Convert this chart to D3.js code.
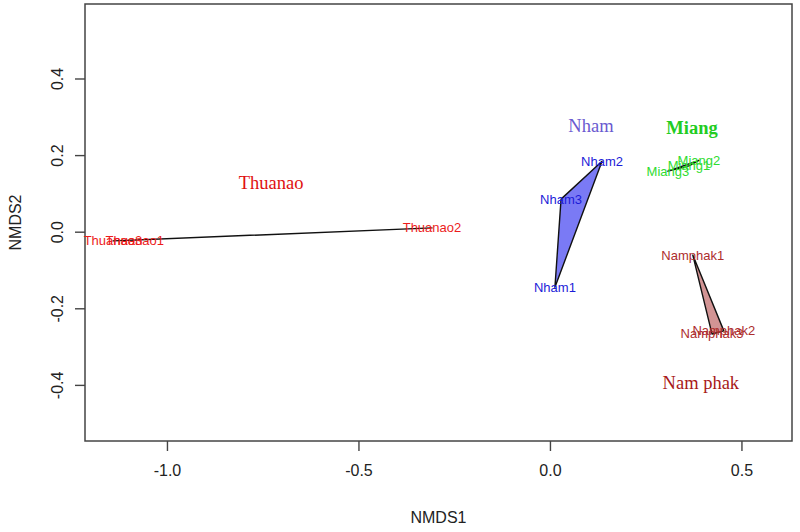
<!DOCTYPE html>
<html>
<head>
<meta charset="utf-8">
<script src="https://cdn.jsdelivr.net/npm/d3@7"></script>
<style>
html,body{margin:0;padding:0;background:#fff;}
svg{display:block;}
</style>
</head>
<body>
<svg id="chart" width="800" height="532"></svg>
<script>
// ---- data (NMDS site scores) ----
const siteNames = ["Thuanao1","Thuanao2","Thuanao3","Nham1","Nham2","Nham3","Miang1","Miang2","Miang3","Namphak1","Namphak2","Namphak3"];
const siteGroup = ["Thuanao","Thuanao","Thuanao","Nham","Nham","Nham","Miang","Miang","Miang","Nam phak","Nam phak","Nam phak"];
const nmds1 = [-1.084,-0.308,-1.141, 0.013,0.136,0.029, 0.363,0.389,0.308, 0.373,0.454,0.423];
const nmds2 = [-0.022, 0.010,-0.024,-0.145,0.184,0.085, 0.172,0.186,0.158,-0.061,-0.259,-0.267];

const groups = ["Thuanao","Nham","Miang","Nam phak"];
const groupLabelX = [-0.728, 0.107, 0.371, 0.394];
const groupLabelY = [ 0.127, 0.275, 0.270,-0.396];

const xTicks = [-1.0,-0.5,0.0,0.5];
const yTicks = [-0.4,-0.2,0.0,0.2,0.4];
const xDomain = [-1.214, 0.632];
const yDomain = [-0.5465, 0.5945];

// ---- styles ----
const pointColor = {"Thuanao":"#ec1c1c","Nham":"#1c1cd8","Miang":"#30dc30","Nam phak":"#ad2d2d"};
const groupColor = {"Thuanao":"#e01010","Nham":"#6a5ad0","Miang":"#22cc22","Nam phak":"#a81818"};
const hullFill = {"Thuanao":"rgba(255,0,0,0.5)","Nham":"rgba(0,0,235,0.52)","Miang":"rgba(0,220,0,0.5)","Nam phak":"rgba(165,42,42,0.5)"};
const groupBold = {"Thuanao":false,"Nham":false,"Miang":true,"Nam phak":false};

const svg = d3.select("#chart");
const L = 85, R = 792, T = 4, B = 441;
const x = d3.scaleLinear().domain(xDomain).range([L, R]);
const y = d3.scaleLinear().domain(yDomain).range([B, T]);

const sans = "'Liberation Sans', Arial, Helvetica, sans-serif";
const serif = "'Liberation Serif', 'Times New Roman', serif";
const fmt = d => d.toFixed(1);

// axes
const xAxis = d3.axisBottom(x).tickValues(xTicks).tickFormat(fmt).tickSize(10).tickPadding(14);
const gx = svg.append("g").attr("transform", `translate(0,${B})`).call(xAxis);
gx.select(".domain").remove();
gx.selectAll("line").attr("stroke", "#444").attr("stroke-width", 1.4);
gx.selectAll("text").attr("font-family", sans).attr("font-size", 16).attr("fill", "#222");

const yAxis = d3.axisLeft(y).tickValues(yTicks).tickFormat(fmt).tickSize(10).tickPadding(0);
const gy = svg.append("g").attr("transform", `translate(${L},0)`).call(yAxis);
gy.select(".domain").remove();
gy.selectAll("line").attr("stroke", "#444").attr("stroke-width", 1.4);
gy.selectAll("text")
  .attr("font-family", sans).attr("font-size", 16).attr("fill", "#222")
  .attr("text-anchor", "middle").attr("dy", null).attr("x", null)
  .attr("transform", "translate(-28,0) rotate(-90)")
  .attr("dominant-baseline", "central");

// frame
svg.append("rect").attr("x", L).attr("y", T).attr("width", R - L).attr("height", B - T)
  .attr("fill", "none").attr("stroke", "#444").attr("stroke-width", 1.5);

// axis titles
svg.append("text").attr("x", (L + R) / 2).attr("y", 517).attr("text-anchor", "middle")
  .attr("dominant-baseline", "central").attr("font-family", sans).attr("font-size", 16).attr("fill", "#222").text("NMDS1");
svg.append("text").attr("transform", `translate(15,${(T + B) / 2}) rotate(-90)`).attr("text-anchor", "middle")
  .attr("dominant-baseline", "central").attr("font-family", sans).attr("font-size", 16).attr("fill", "#222").text("NMDS2");

// plot content
const plot = svg.append("g");
const sites = siteNames.map((n, i) => ({name: n, group: siteGroup[i], x: nmds1[i], y: nmds2[i]}));

groups.forEach(g => {
  const pts = sites.filter(s => s.group === g).map(s => [x(s.x), y(s.y)]);
  const hull = d3.polygonHull(pts);
  if (hull) {
    plot.append("path").attr("d", "M" + hull.join("L") + "Z")
      .attr("fill", hullFill[g]).attr("stroke", "#111").attr("stroke-width", 1.4)
      .attr("stroke-linejoin", "round");
  }
});

plot.selectAll("text.site").data(sites).enter().append("text")
  .attr("class", "site")
  .attr("x", d => x(d.x)).attr("y", d => y(d.y))
  .attr("text-anchor", "middle").attr("dominant-baseline", "central")
  .attr("font-family", sans).attr("font-size", 13)
  .attr("fill", d => pointColor[d.group])
  .text(d => d.name);

plot.selectAll("text.grp").data(groups).enter().append("text")
  .attr("class", "grp")
  .attr("x", (d, i) => x(groupLabelX[i])).attr("y", (d, i) => y(groupLabelY[i]))
  .attr("text-anchor", "middle").attr("dominant-baseline", "central")
  .attr("font-family", serif).attr("font-size", 18.5)
  .attr("font-weight", d => groupBold[d] ? "bold" : "normal")
  .attr("fill", d => groupColor[d])
  .text(d => d);
</script>
</body>
</html>
